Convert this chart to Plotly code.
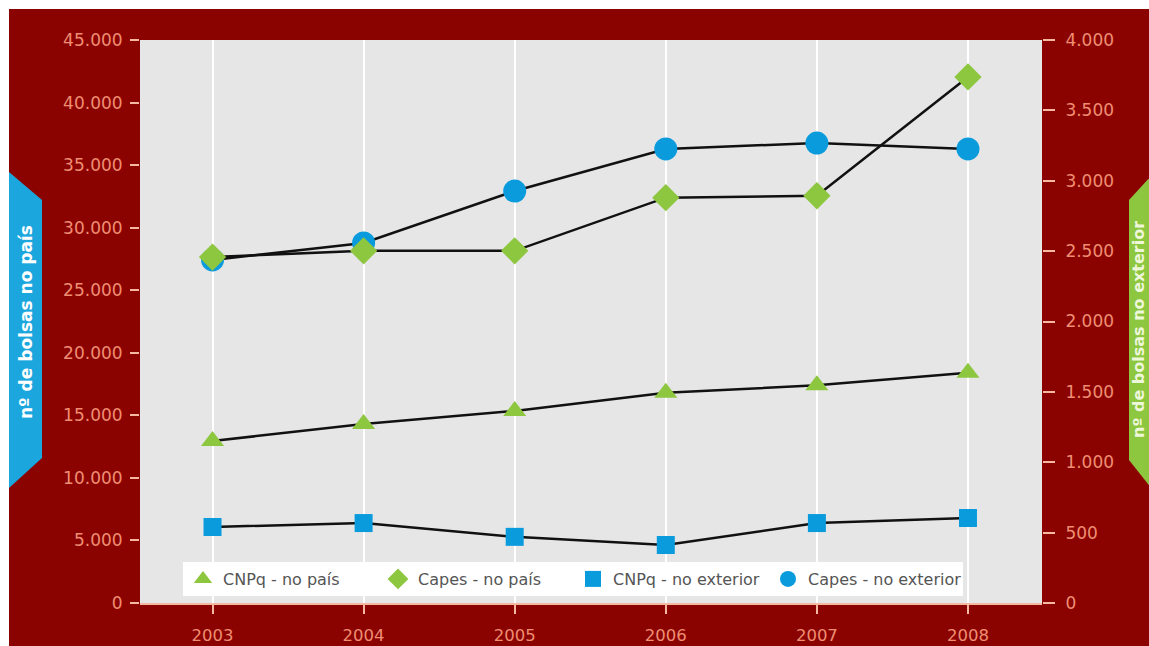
import plotly.graph_objects as go

# ---- data ----
years = [2003, 2004, 2005, 2006, 2007, 2008]
cnpq_pais = [12950, 14300, 15350, 16800, 17400, 18400]
capes_pais = [27650, 28150, 28150, 32400, 32550, 42050]
cnpq_ext = [540, 568, 470, 412, 568, 604]
capes_ext = [2437, 2558, 2927, 3226, 3268, 3226]

left_ticks = [0, 5000, 10000, 15000, 20000, 25000, 30000, 35000, 40000, 45000]
right_ticks = [0, 500, 1000, 1500, 2000, 2500, 3000, 3500, 4000]

names = ["CNPq - no país", "Capes - no país", "CNPq - no exterior", "Capes - no exterior"]

# ---- style ----
W, H = 1149, 646
L, R, T, B = 140, 107, 40, 43
PW, PH = W - L - R, H - T - B
DARK_RED = "#8B0300"
GREEN = "#8DC63F"
BLUE = "#0A9BDD"
TICK_COL = "#EF8E73"
TICK_LINE = "#F5B8A2"
FONT = "DejaVu Sans"


def px(x):
    return (x - L) / PW


def py(y):
    return (H - B - y) / PH


fig = go.Figure()

# "y" = right axis (exterior), "y2" = left axis (país), overlay so país markers sit on top
for ys, ax in [(cnpq_ext, "y"), (capes_ext, "y"), (cnpq_pais, "y2"), (capes_pais, "y2")]:
    fig.add_trace(go.Scatter(x=years, y=ys, yaxis=ax, mode="lines",
                             line=dict(color="#111111", width=2.5),
                             showlegend=False, hoverinfo="skip"))

fig.add_trace(go.Scatter(x=years, y=capes_ext, yaxis="y", mode="markers", name=names[3],
                         legendrank=4,
                         marker=dict(symbol="circle", size=23, color=BLUE)))
fig.add_trace(go.Scatter(x=years, y=cnpq_ext, yaxis="y", mode="markers", name=names[2],
                         legendrank=3,
                         marker=dict(symbol="square", size=18, color=BLUE)))
fig.add_trace(go.Scatter(x=years, y=cnpq_pais, yaxis="y2", mode="markers", name=names[0],
                         legendrank=1,
                         marker=dict(symbol="triangle-up", size=20, color=GREEN)))
fig.add_trace(go.Scatter(x=years, y=capes_pais, yaxis="y2", mode="markers", name=names[1],
                         legendrank=2,
                         marker=dict(symbol="diamond", size=21, color=GREEN)))

shapes = [
    dict(type="rect", xref="paper", yref="paper", x0=px(-20), x1=px(W + 20),
         y0=py(9), y1=py(-20), fillcolor="white", line=dict(width=0), layer="below"),
    dict(type="rect", xref="paper", yref="paper", x0=px(-20), x1=px(9),
         y0=py(H + 20), y1=py(-20), fillcolor="white", line=dict(width=0), layer="below"),
    dict(type="path", xref="paper", yref="paper", layer="below", line=dict(width=0),
         fillcolor="#1BA6DE",
         path=f"M {px(9)} {py(172)} L {px(42)} {py(200)} L {px(42)} {py(458)} "
              f"L {px(9)} {py(488)} Z"),
    dict(type="path", xref="paper", yref="paper", layer="below", line=dict(width=0),
         fillcolor=GREEN,
         path=f"M {px(1152)} {py(175)} L {px(1129)} {py(200)} L {px(1129)} {py(460)} "
              f"L {px(1152)} {py(489)} Z"),
]

annotations = [
    dict(xref="paper", yref="paper", x=px(26), y=py(322), text="nº de bolsas no país",
         textangle=-90, showarrow=False, xanchor="center", yanchor="middle",
         font=dict(family=FONT, size=17, color="white", weight="bold")),
    dict(xref="paper", yref="paper", x=px(1139), y=py(330), text="nº de bolsas no exterior",
         textangle=-90, showarrow=False, xanchor="center", yanchor="middle",
         font=dict(family=FONT, size=16, color="#EEF7DA", weight="bold")),
]

fig.update_layout(
    width=W, height=H,
    margin=dict(l=L, r=R, t=T, b=B, pad=0, autoexpand=False),
    paper_bgcolor=DARK_RED,
    plot_bgcolor="#E6E6E6",
    separators=",.",
    font=dict(family=FONT, color=TICK_COL),
    shapes=shapes,
    annotations=annotations,
    xaxis=dict(range=[2002.52, 2008.49], tickvals=years, ticktext=[str(y) for y in years],
               showgrid=True, gridcolor="white", gridwidth=2, zeroline=False,
               showline=True, linecolor=TICK_LINE, linewidth=2, automargin=False,
               ticks="outside", ticklen=9, tickwidth=2, tickcolor=TICK_LINE,
               ticklabelstandoff=7,
               tickfont=dict(family=FONT, size=16.5, color=TICK_COL)),
    yaxis=dict(range=[0, 4000], tickvals=right_ticks, tickformat=",d", side="right",
               showgrid=False, zeroline=False, showline=False, automargin=False,
               ticks="outside", ticklen=12, tickwidth=2, tickcolor=TICK_LINE,
               ticklabelstandoff=7,
               tickfont=dict(family=FONT, size=17, color=TICK_COL)),
    yaxis2=dict(range=[0, 45000], tickvals=left_ticks, tickformat=",d",
                overlaying="y", side="left",
                showgrid=False, zeroline=False, showline=False, automargin=False,
                ticks="outside", ticklen=9, tickwidth=2, tickcolor=TICK_LINE,
                ticklabelstandoff=4,
                tickfont=dict(family=FONT, size=17, color=TICK_COL)),
    legend=dict(orientation="h", x=px(183), y=py(562), xanchor="left", yanchor="top",
                bgcolor="white", borderwidth=0, traceorder="normal",
                entrywidth=150, entrywidthmode="pixels",
                font=dict(family=FONT, size=16, color="#555555"),
                itemsizing="trace"),
    showlegend=True,
)

fig.write_html("out.html")
